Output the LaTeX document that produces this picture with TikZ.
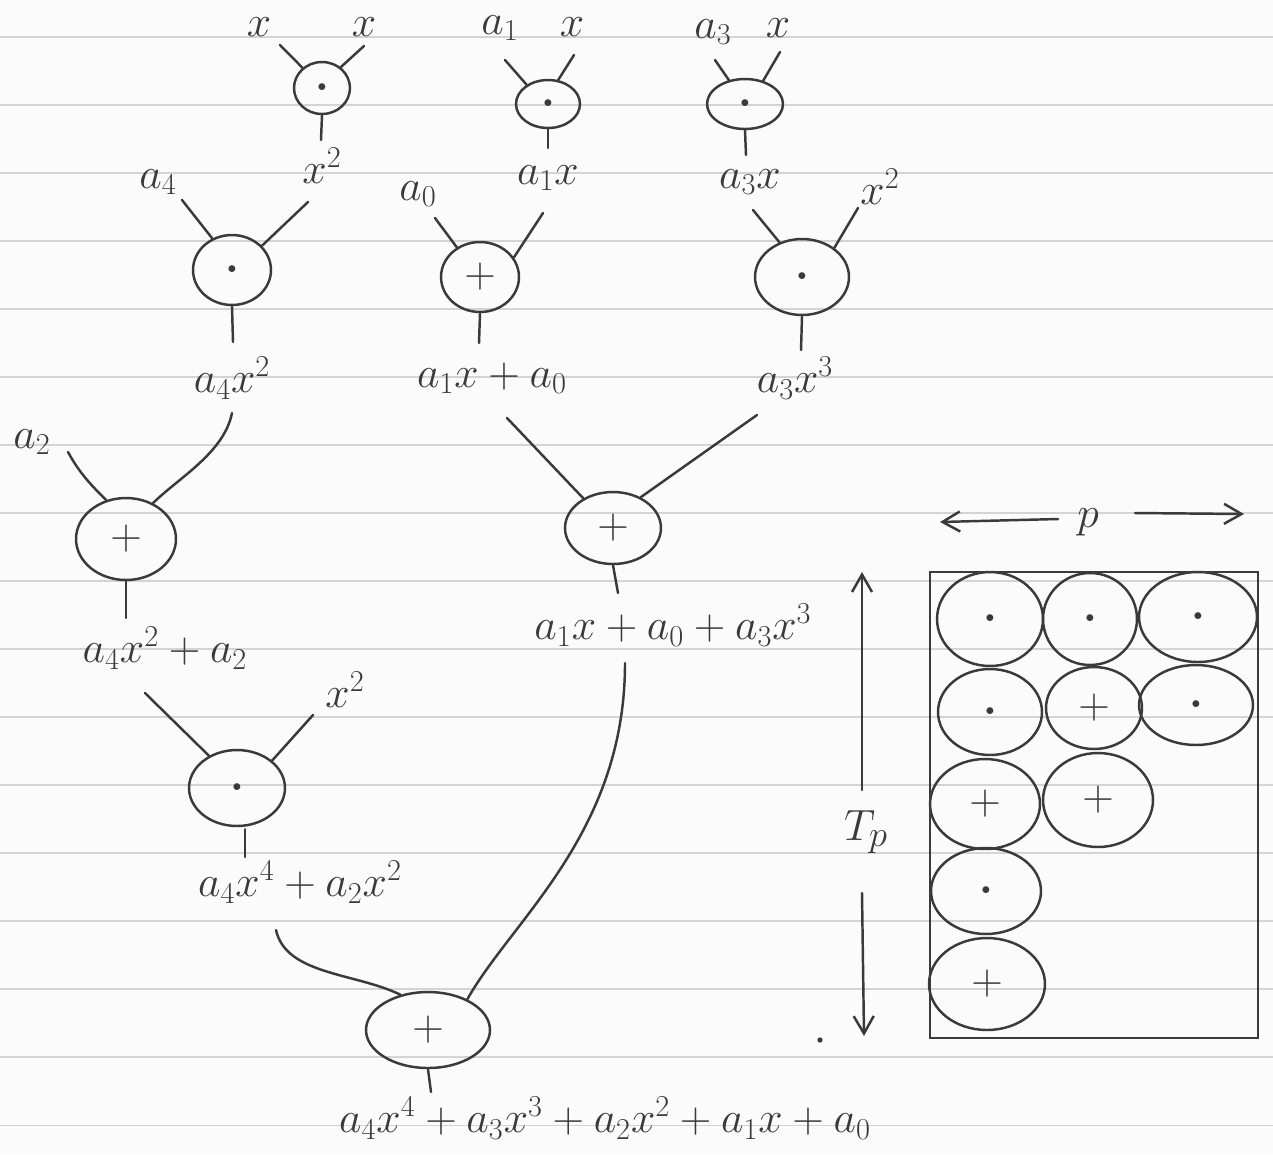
\documentclass[tikz,border=0pt]{standalone}
\usetikzlibrary{arrows.meta, shapes.geometric}

\definecolor{ink}{HTML}{3A3A3A}
\definecolor{ruling}{HTML}{D4D4D4}
\definecolor{paper}{HTML}{FBFBFB}

\newcommand{\mul}{{\fontsize{10}{10}\selectfont$\bullet$}}

\begin{document}
\begin{tikzpicture}[
    x=0.02cm, y=-0.02cm,
    op/.style 2 args={
        ellipse, draw=ink, line width=1.4pt, inner sep=0pt,
        minimum width=#1*0.04cm, minimum height=#2*0.04cm,
        font=\fontsize{24}{28}\selectfont, text=ink
    },
    term/.style={font=\fontsize{25}{30}\selectfont, text=ink, inner sep=1pt},
    wire/.style={draw=ink, line width=1.4pt, line cap=round},
    >={Straight Barb[length=3.5mm, width=4mm]}
]

% lined paper
\useasboundingbox (0,0) rectangle (1273,1154);
\fill[paper] (0,0) rectangle (1273,1154);
\foreach \k in {0,...,16}
    \draw[ruling, line width=0.6pt] (0,37+68*\k) -- (1273,37+68*\k);

% first products
\node[term] (xa) at (259,27) {$x$};
\node[term] (xb) at (364,27) {$x$};
\node[term] (a1) at (500,28) {$a_1$};
\node[term] (xc) at (572,27) {$x$};
\node[term] (a3) at (713,32) {$a_3$};
\node[term] (xd) at (778,28) {$x$};

\node[op={28}{26}] (m1) at (322,88)  {\mul};
\node[op={32}{24}] (m2) at (548,104) {\mul};
\node[op={38}{25}] (m3) at (745,104) {\mul};

\node[term] (xsq)  at (322,166) {$x^2$};
\node[term] (a1x)  at (548,178) {$a_1x$};
\node[term] (a3x)  at (750,182) {$a_3x$};
\node[term] (a4)   at (158,182) {$a_4$};
\node[term] (a0)   at (418,194) {$a_0$};
\node[term] (xsqb) at (880,187) {$x^2$};

\draw[wire] ([shift={(21,18)}]xa.center) -- (m1.134);
\draw[wire] ([shift={(0,19)}]xb.center) -- (m1.48);
\draw[wire] (m1.south) -- ([shift={(-1,-26)}]xsq.center);
\draw[wire] ([shift={(5,32)}]a1.center) -- (m2.138);
\draw[wire] ([shift={(2,28)}]xc.center) -- (m2.67);
\draw[wire] (m2.south) -- ([shift={(0,-30)}]a1x.center);
\draw[wire] ([shift={(2,28)}]a3.center) -- (m3.124);
\draw[wire] ([shift={(2,24)}]xd.center) -- (m3.52);
\draw[wire] (m3.south) -- ([shift={(-4,-27)}]a3x.center);

% second level
\node[op={39}{35}] (m4) at (232,270) {\mul};
\node[op={39}{35}] (s1) at (480,277) {$+$};
\node[op={47}{38}] (m5) at (802,277) {\mul};

\node[term] (a4x2)  at (232,378) {$a_4x^2$};
\node[term] (a1xa0) at (492,378) {$a_1x+a_0$};
\node[term] (a3x3)  at (795,378) {$a_3x^3$};
\node[term] (a2)    at (32,442)  {$a_2$};

\draw[wire] ([shift={(24,18)}]a4.center) -- (m4.122);
\draw[wire] ([shift={(-14,36)}]xsq.center) -- (m4.39);
\draw[wire] (m4.south) -- ([shift={(1,-36)}]a4x2.center);
\draw[wire] ([shift={(17,24)}]a0.center) -- (s1.128);
\draw[wire] ([shift={(-5,35)}]a1x.center) -- (s1.30);
\draw[wire] (s1.south) -- ([shift={(-13,-35)}]a1xa0.center);
\draw[wire] ([shift={(3,28)}]a3x.center) -- (m5.123);
\draw[wire] ([shift={(-22,21)}]xsqb.center) -- (m5.42);
\draw[wire] (m5.south) -- ([shift={(6,-28)}]a3x3.center);

% third level
\node[op={50}{41}] (s2) at (126,539) {$+$};
\node[op={48}{36}] (s3) at (613,528) {$+$};

\node[term] (sumA) at (165,648) {$a_4x^2+a_2$};
\node[term] (sumB) at (673,625) {$a_1x+a_0+a_3x^3$};
\node[term] (xsqc) at (345,690) {$x^2$};

\draw[wire] ([shift={(36,10)}]a2.center) .. controls +(12,22) and +(-14,-14) .. (s2.117);
\draw[wire] ([shift={(0,35)}]a4x2.center) .. controls +(-8,40) and +(25,-25) .. (s2.53);
\draw[wire] (s2.south) -- ([shift={(-39,-30)}]sumA.center);
\draw[wire] ([shift={(15,40)}]a1xa0.center) -- (s3.135);
\draw[wire] ([shift={(-38,37)}]a3x3.center) -- (s3.48);
\draw[wire] (s3.south) -- ([shift={(-55,-32)}]sumB.center);

% fourth level
\node[op={48}{38}] (m6) at (237,788) {\mul};
\node[term] (sumC) at (300,882) {$a_4x^4+a_2x^2$};

\draw[wire] ([shift={(-20,45)}]sumA.center) -- (m6.131);
\draw[wire] ([shift={(-32,25)}]xsqc.center) -- (m6.38);
\draw[wire] ([shift={(8,2)}]m6.south) -- ([shift={(-55,-25)}]sumC.center);

% root
\node[op={62}{38}] (s4) at (428,1030) {$+$};
\node[term] (poly) at (605,1118) {$a_4x^4+a_3x^3+a_2x^2+a_1x+a_0$};

\draw[wire] ([shift={(-24,48)}]sumC.center) .. controls +(10,45) and +(-45,-22) .. (s4.128);
\draw[wire] ([shift={(-48,38)}]sumB.center) .. controls +(0,170) and +(45,-80) .. (s4.38);
\draw[wire] (s4.south) -- ([shift={(-174,-26)}]poly.center);

\node[circle, fill=ink, inner sep=0pt, minimum size=3pt] (dot) at (820,1040) {};

% processors p, time T_p
\coordinate (pl) at (940,522);
\coordinate (pr) at (1244,514);
\node[term] (p) at (1088,522) {$p$};
\draw[wire, ->] ([shift={(-30,-3)}]p.center) -- (pl);
\draw[wire, ->] ([shift={(47,-9)}]p.center) -- (pr);

\coordinate (tt) at (862,572);
\coordinate (tb) at (864,1036);
\node[term, font=\fontsize{30}{36}\selectfont] (tp) at (866,832) {$T_p$};
\draw[wire, ->] ([shift={(-4,-42)}]tp.center) -- (tt);
\draw[wire, ->] ([shift={(-4,61)}]tp.center) -- (tb);

\draw[wire] (930,572) rectangle (1258,1038);

\node[op={53}{47}] (g11) at (990,619)  {\mul};
\node[op={47}{46}] (g12) at (1090,619) {\mul};
\node[op={59}{45}] (g13) at (1198,617) {\mul};
\node[op={52}{43}] (g21) at (990,712)  {\mul};
\node[op={48}{41}] (g22) at (1094,708) {$+$};
\node[op={57}{40}] (g23) at (1196,705) {\mul};
\node[op={55}{45}] (g31) at (985,804)  {$+$};
\node[op={55}{47}] (g32) at (1098,800) {$+$};
\node[op={55}{43}] (g41) at (986,891)  {\mul};
\node[op={58}{46}] (g51) at (987,984)  {$+$};

\end{tikzpicture}
\end{document}
